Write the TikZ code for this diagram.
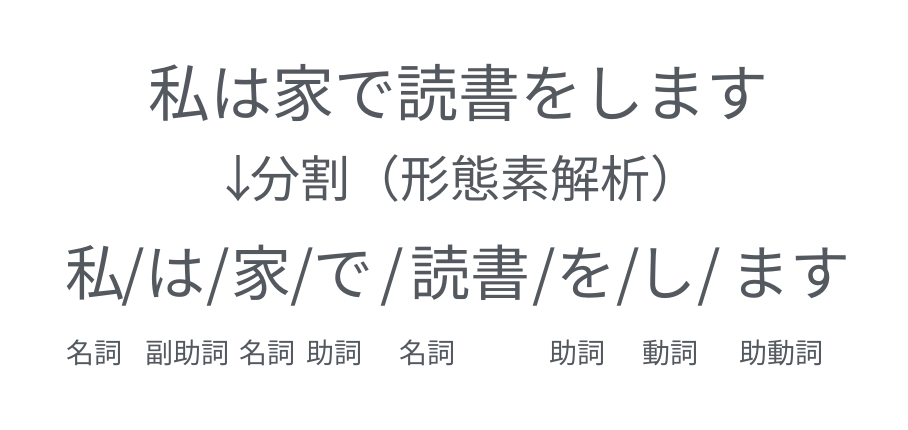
\documentclass[tikz,border=0pt]{standalone}
\usepackage{fontspec}
\setmainfont{Noto Sans CJK JP}
\definecolor{inkgray}{RGB}{84,89,96}
\tikzset{every node/.style={ % text colour and tight boxes
text=inkgray,
inner sep=0pt},
big/.style={font=\fontsize{62}{62}\selectfont, anchor=base}, % first sentence
cut/.style={font=\fontsize{60}{60}\selectfont, anchor=base}, % split sentence
mid/.style={font=\fontsize{50}{50}\selectfont, anchor=base west}, % step label
tag/.style={font=\fontsize{28}{28}\selectfont, anchor=base}} % parts of speech

\begin{document}
\begin{tikzpicture}[x=1pt,y=-1pt]
                \useasboundingbox (0,0) rectangle (908,430);

                \node[big] (src) at (458,117) {私は家で読書をします};
                \node[mid, anchor=base] (arrow) at (238,198) {↓};
                \node[mid] (split) at (250,198) {分割（形態素解析）};

                \node[cut] (m1) at (95,296) {私};
                \node[cut] (s1) at (133,296) {/};
                \node[cut] (m2) at (175,296) {は};
                \node[cut] (s2) at (218,296) {/};
                \node[cut] (m3) at (261,296) {家};
                \node[cut] (s3) at (302,296) {/};
                \node[cut] (m4) at (343,296) {で};
                \node[cut] (s4) at (392,296) {/};
                \node[cut] (m5) at (470,296) {読書};
                \node[cut] (s5) at (544,296) {/};
                \node[cut] (m6) at (586,296) {を};
                \node[cut] (s6) at (628,296) {/};
                \node[cut] (m7) at (666,296) {し};
                \node[cut] (s7) at (709,296) {/};
                \node[cut] (m8) at (790,296) {ます};

                \node[tag] (t1) at (94,363) {名詞};
                \node[tag] (t2) at (187,363) {副助詞};
                \node[tag] (t3) at (267,363) {名詞};
                \node[tag] (t4) at (334,363) {助詞};
                \node[tag] (t5) at (427,363) {名詞};
                \node[tag] (t6) at (577,363) {助詞};
                \node[tag] (t7) at (670,363) {動詞};
                \node[tag] (t8) at (781,363) {助動詞};


            \end{tikzpicture}
\end{document}
